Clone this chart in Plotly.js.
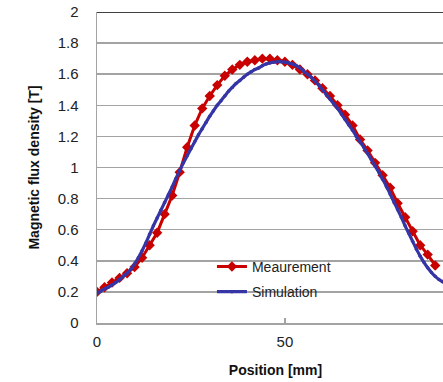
<!DOCTYPE html>
<html>
<head>
<meta charset="utf-8">
<script src="https://cdn.plot.ly/plotly-3.0.1.min.js"></script>
<style>
html,body{margin:0;padding:0;overflow:hidden;background:#fff;}
#chart{width:454px;height:382px;}
</style>
</head>
<body>
<div id="chart"></div>
<script>
// Measurement (every 2 mm)
const measX = [0,2,4,6,8,10,12,14,16,18,20,22,24,26,28,30,32,34,36,38,40,42,44,46,48,50,52,54,56,58,60,62,64,66,68,70,72,74,76,78,80,82,84,86,88,90];
const measY = [0.20,0.23,0.26,0.29,0.32,0.36,0.42,0.50,0.58,0.70,0.82,0.97,1.13,1.27,1.38,1.46,1.53,1.59,1.63,1.66,1.68,1.69,1.70,1.70,1.69,1.68,1.66,1.63,1.60,1.56,1.51,1.46,1.40,1.34,1.27,1.18,1.11,1.03,0.95,0.87,0.77,0.68,0.59,0.50,0.44,0.37];

// Simulation (every 1 mm)
const simX = [0,1,2,3,4,5,6,7,8,9,10,11,12,13,14,15,16,17,18,19,20,21,22,23,24,25,26,27,28,29,30,31,32,33,34,35,36,37,38,39,40,41,42,43,44,45,46,47,48,49,50,51,52,53,54,55,56,57,58,59,60,61,62,63,64,65,66,67,68,69,70,71,72,73,74,75,76,77,78,79,80,81,82,83,84,85,86,87,88,89,90,91,92,93];
const simY = [0.19,0.205,0.22,0.23,0.245,0.26,0.28,0.30,0.32,0.345,0.38,0.42,0.465,0.515,0.57,0.625,0.675,0.725,0.775,0.825,0.875,0.93,0.98,1.03,1.075,1.12,1.165,1.21,1.25,1.29,1.33,1.365,1.40,1.43,1.46,1.49,1.515,1.54,1.56,1.58,1.60,1.615,1.63,1.64,1.655,1.665,1.672,1.677,1.68,1.68,1.678,1.672,1.665,1.655,1.64,1.62,1.60,1.58,1.555,1.53,1.50,1.47,1.44,1.41,1.38,1.345,1.31,1.275,1.24,1.20,1.165,1.13,1.09,1.05,1.01,0.97,0.925,0.88,0.83,0.78,0.73,0.68,0.625,0.575,0.525,0.475,0.43,0.39,0.355,0.325,0.30,0.28,0.265,0.25];

const xRange = [0, 95];
const yRange = [0, 2];
const xTicks = [0, 50];

const FONT = '"Liberation Sans", Arial, sans-serif';
const RED = '#c80000';
const BLUE = '#3535a5';
const GRID = '#a3a3a3';

const traces = [
  {
    x: measX, y: measY, name: 'Meaurement', type: 'scatter', mode: 'lines+markers',
    line: {color: RED, width: 3},
    marker: {symbol: 'diamond', size: 8, color: RED},
    legendgroup: 'a'
  },
  {
    x: simX, y: simY, name: 'Simulation', type: 'scatter', mode: 'lines+markers',
    line: {color: BLUE, width: 3.2, shape: 'spline'},
    marker: {symbol: 'circle', size: 3.5, color: BLUE},
    legendgroup: 'b'
  }
];

const layout = {
  width: 454, height: 382,
  margin: {l: 97, r: 0, t: 12, b: 59},
  paper_bgcolor: '#fff', plot_bgcolor: '#fff',
  font: {family: FONT, size: 15, color: '#222'},
  showlegend: true,
  legend: {
    x: 0.322, xanchor: 'left', y: 0.232, yanchor: 'top',
    bgcolor: 'rgba(0,0,0,0)', borderwidth: 0,
    font: {family: FONT, size: 14, color: '#222'},
    traceorder: 'grouped', tracegroupgap: 4, itemwidth: 30
  },
  xaxis: {
    range: xRange, tickvals: xTicks, ticktext: xTicks.map(String),
    showgrid: false, zeroline: false,
    showline: true, linecolor: GRID, linewidth: 1.5,
    ticks: 'inside', ticklen: 5, tickcolor: GRID, tickwidth: 1.5,
    ticklabelstandoff: 4,
    tickfont: {family: FONT, size: 15, color: '#222'},
    title: {text: '<b>Position [mm]</b>', font: {family: FONT, size: 14, color: '#111'}, standoff: 16}
  },
  yaxis: {
    range: yRange, dtick: 0.2, tick0: 0,
    showgrid: true, gridcolor: GRID, gridwidth: 1.5,
    zeroline: false, showline: true, linecolor: GRID, linewidth: 1.5,
    ticks: '', ticklabelstandoff: 14,
    tickfont: {family: FONT, size: 15, color: '#222'},
    title: {text: '<b>Magnetic flux density [T]</b>', font: {family: FONT, size: 14, color: '#111'}, standoff: 14}
  },
  shapes: [
    {type: 'rect', xref: 'paper', yref: 'paper', x0: 0.26, x1: 0.768, y0: 0.055, y1: 0.235,
     fillcolor: '#fff', line: {width: 0}, layer: 'between'},
    {type: 'line', xref: 'paper', yref: 'y', x0: 0, x1: 1, y0: yRange[1], y1: yRange[1],
     line: {color: '#000', width: 1.5}}
  ]
};

Plotly.newPlot('chart', traces, layout, {displayModeBar: false, staticPlot: true});
</script>
</body>
</html>
